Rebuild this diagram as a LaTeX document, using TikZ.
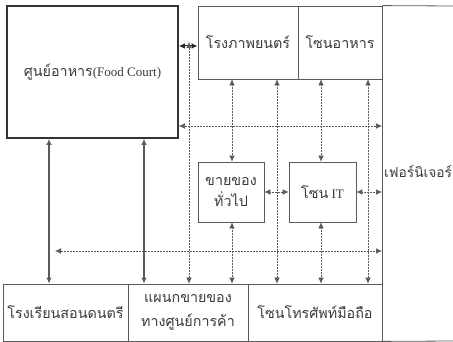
\documentclass[tikz,border=0pt]{standalone}
\usepackage{fontspec}
\setmainfont{Liberation Serif}
\newfontfamily\thai[Script=Thai,Scale=1.1]{Loma}
\usetikzlibrary{arrows.meta}
\definecolor{ln}{HTML}{5A5A5A}
\definecolor{tx}{HTML}{3A3A3A}
\tikzset{
  zone/.style={draw=ln, line width=0.8pt, minimum width=#1, inner sep=0pt, text=tx, align=center, font=\fontsize{13}{22}\selectfont},
  solidarr/.style={draw=ln, line width=1.3pt, {Latex[length=6pt,width=5.5pt]}-{Latex[length=6pt,width=5.5pt]}},
  dotarr/.style={draw=ln, line width=0.5pt, densely dotted, {Latex[length=6pt,width=5.5pt]}-{Latex[length=6pt,width=5.5pt]}},
  frame/.style={draw=ln, line width=0.8pt}
}
\begin{document}
\begin{tikzpicture}[x=1pt,y=-1pt]
\useasboundingbox (0,0) rectangle (453,342);
% boxes
\node[zone=171pt, minimum height=132pt, line width=1.6pt, draw=black!80] (fc) at (92.5,72) {{\thai ศูนย์อาหาร}(Food Court)};
\node[zone=100pt, minimum height=73pt] (cin) at (248,42.5) {\thai โรงภาพยนตร์};
\node[zone=84pt, minimum height=73pt] (fz) at (340,42.5) {\thai โซนอาหาร};
\node[zone=66pt, minimum height=60pt, font=\fontsize{13}{21}\selectfont] (gen) at (231,192) {\thai ขายของ\\\thai ทั่วไป};
\node[zone=67pt, minimum height=60pt] (it) at (322.5,192) {{\thai โซน} IT};
\node[zone=125pt, minimum height=57pt] (school) at (65.5,312.5) {\thai โรงเรียนสอนดนตรี};
\node[zone=120pt, minimum height=57pt, font=\fontsize{13}{24}\selectfont] (dept) at (188,312.5) {\thai แผนกขายของ\\\thai ทางศูนย์การค้า};
\node[zone=134pt, minimum height=57pt] (phone) at (315,312.5) {\thai โซนโทรศัพท์มือถือ};
\node[anchor=west, inner sep=0pt, text=tx, font=\fontsize{12.5}{14}\selectfont] (furn) at (384,172) {\thai เฟอร์นิเจอร์};
% outer frame of furniture zone
\coordinate (tr) at (453,6);
\coordinate (br) at (453,341);
\draw[frame] (fz.north east) -- (tr);
\draw[frame] (fz.north east) -- (phone.south east);
\draw[frame] (phone.south east) -- (br);
% guide coordinates
\coordinate (yA) at (0,46);
\coordinate (xA) at (189,0);
\coordinate (topA) at (189,42);
\coordinate (y1) at (0,126);
\coordinate (r1) at (382,126);
\coordinate (x49) at (49,0);
\coordinate (x144) at (144,0);
\coordinate (x232) at (232,0);
\coordinate (x277) at (277,0);
\coordinate (x321) at (321,0);
\coordinate (x368) at (368,0);
\coordinate (r2) at (382,192);
\coordinate (l3) at (55,251);
\coordinate (r3) at (382,251);
% connectors
\draw[solidarr, line width=1pt, draw=black!85] (fc.east |- yA) -- (cin.west |- yA);
\draw[dotarr] (dept.north -| xA) -- (topA);
\draw[dotarr] (fc.east |- y1) -- (r1);
\draw[solidarr] (fc.south -| x49) -- (school.north -| x49);
\draw[solidarr] (fc.south -| x144) -- (dept.north -| x144);
\draw[dotarr] (cin.south -| x232) -- (gen.north -| x232);
\draw[dotarr] (gen.south -| x232) -- (dept.north -| x232);
\draw[dotarr] (cin.south -| x277) -- (phone.north -| x277);
\draw[dotarr] (fz.south -| x321) -- (it.north -| x321);
\draw[dotarr] (it.south -| x321) -- (phone.north -| x321);
\draw[dotarr] (fz.south -| x368) -- (phone.north -| x368);
\draw[dotarr] (gen.east) -- (it.west);
\draw[dotarr] (it.east) -- (r2);
\draw[dotarr] (l3) -- (r3);
\end{tikzpicture}
\end{document}
